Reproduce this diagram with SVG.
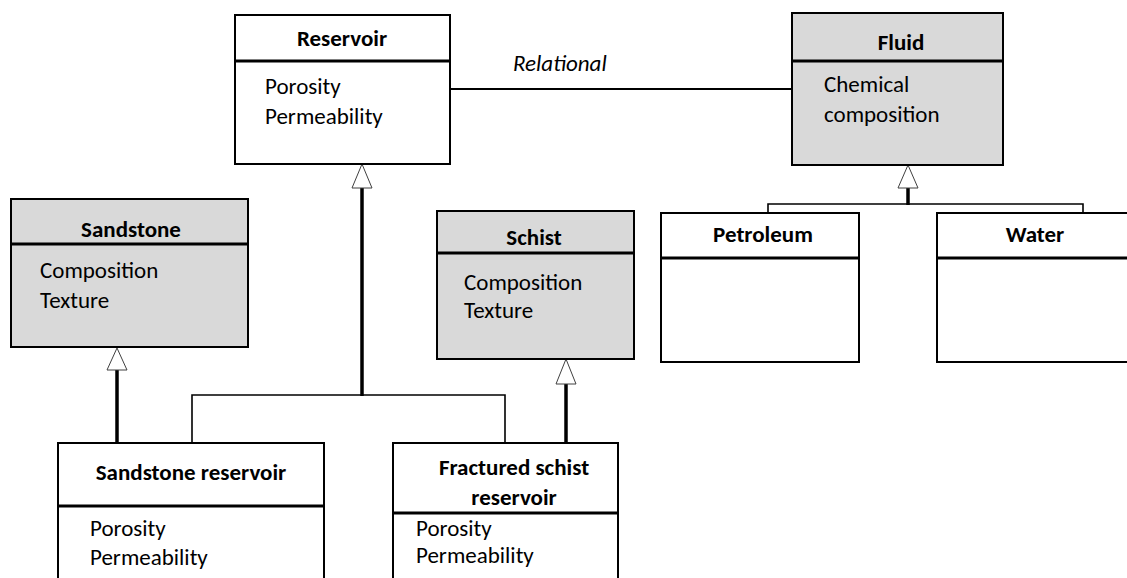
<svg xmlns="http://www.w3.org/2000/svg" width="1127" height="578" viewBox="0 0 1127 578">
<style>
  .box { fill: #ffffff; stroke: #000000; stroke-width: 2; }
  .grey { fill: #d9d9d9; }
  .div { stroke: #000000; stroke-width: 3; }
  .title { font-family: Carlito, Lato, "Liberation Sans", sans-serif; font-weight: bold; font-size: 23px; text-anchor: middle; fill: #000; }
  .attr { font-family: Carlito, Lato, "Liberation Sans", sans-serif; font-size: 23px; fill: #000; }
  .rel { font-family: Carlito, Lato, "Liberation Sans", sans-serif; font-style: italic; font-size: 23px; fill: #000; }
  .thick { stroke: #000; stroke-width: 3.5; fill: none; }
  .thin { stroke: #000; stroke-width: 1.6; fill: none; }
  .assoc { stroke: #000; stroke-width: 2; fill: none; }
  .tri { fill: #ffffff; stroke: #404040; stroke-width: 1; }
</style>
<rect width="1127" height="578" fill="#ffffff"/>

<g id="connectors">
  <line class="assoc" x1="450" y1="89" x2="792" y2="89"/>
  <text class="rel" x="513" y="71">Relational</text>
  <line class="thick" x1="362" y1="188" x2="362" y2="396"/>
  <polyline class="thin" points="192,443 192,395 505,395 505,443"/>
  <polygon class="tri" points="362,164 352,188 372,188"/>
  <line class="thick" x1="117" y1="370" x2="117" y2="443"/>
  <polygon class="tri" points="117,348 107,370 127,370"/>
  <line class="thick" x1="566" y1="384" x2="566" y2="443"/>
  <polygon class="tri" points="566,359 556,384 576,384"/>
  <line class="thick" x1="908" y1="188" x2="908" y2="205"/>
  <polyline class="thin" points="768,213 768,204 1083,204 1083,213"/>
  <polygon class="tri" points="908,165 898,188 918,188"/>
</g>

<g id="reservoir">
  <rect class="box" x="235" y="15" width="215" height="149"/>
  <line class="div" x1="235" y1="61" x2="450" y2="61"/>
  <text class="title" x="342" y="46">Reservoir</text>
  <text class="attr" x="265" y="94">Porosity</text>
  <text class="attr" x="265" y="124">Permeability</text>
</g>

<g id="fluid">
  <rect class="box grey" x="792" y="13" width="211" height="152"/>
  <line class="div" x1="792" y1="61" x2="1003" y2="61"/>
  <text class="title" x="901" y="50">Fluid</text>
  <text class="attr" x="824" y="92">Chemical</text>
  <text class="attr" x="824" y="122">composition</text>
</g>

<g id="sandstone">
  <rect class="box grey" x="11" y="199" width="237" height="148"/>
  <line class="div" x1="11" y1="244" x2="248" y2="244"/>
  <text class="title" x="131" y="237">Sandstone</text>
  <text class="attr" x="40" y="278">Composition</text>
  <text class="attr" x="40" y="308">Texture</text>
</g>

<g id="schist">
  <rect class="box grey" x="437" y="211" width="197" height="148"/>
  <line class="div" x1="437" y1="253" x2="634" y2="253"/>
  <text class="title" x="534" y="245">Schist</text>
  <text class="attr" x="464" y="290">Composition</text>
  <text class="attr" x="464" y="318">Texture</text>
</g>

<g id="petroleum">
  <rect class="box" x="661" y="213" width="198" height="149"/>
  <line class="div" x1="661" y1="258" x2="859" y2="258"/>
  <text class="title" x="763" y="242">Petroleum</text>
</g>

<g id="water">
  <rect class="box" x="937" y="213" width="200" height="149"/>
  <line class="div" x1="937" y1="258" x2="1137" y2="258"/>
  <text class="title" x="1035" y="242">Water</text>
</g>

<g id="sandstone-reservoir">
  <rect class="box" x="58" y="443" width="266" height="150"/>
  <line class="div" x1="58" y1="506" x2="324" y2="506"/>
  <text class="title" x="191" y="480">Sandstone reservoir</text>
  <text class="attr" x="90" y="536">Porosity</text>
  <text class="attr" x="90" y="565">Permeability</text>
</g>

<g id="fractured-schist-reservoir">
  <rect class="box" x="393" y="443" width="225" height="150"/>
  <line class="div" x1="393" y1="513" x2="618" y2="513"/>
  <text class="title" x="514" y="475">Fractured schist</text>
  <text class="title" x="514" y="505">reservoir</text>
  <text class="attr" x="416" y="536">Porosity</text>
  <text class="attr" x="416" y="563">Permeability</text>
</g>
</svg>
